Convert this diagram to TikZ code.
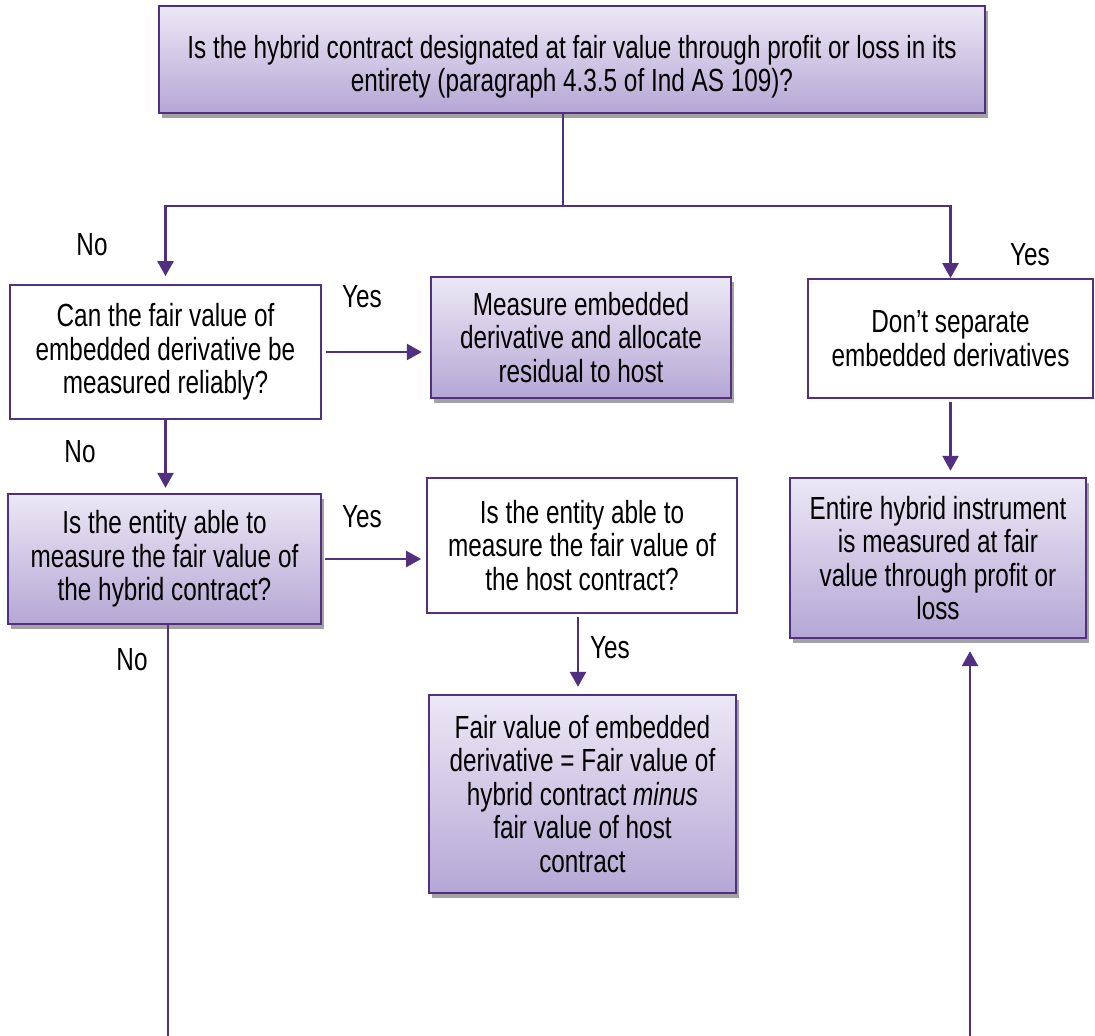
\documentclass[tikz,border=0pt]{standalone}
\usepackage{fontspec}
\setmainfont{Liberation Sans}[FakeStretch=0.76]
\usetikzlibrary{arrows.meta, shadows}

\definecolor{flowline}{HTML}{50307F}
\definecolor{boxtop}{HTML}{ECE8F5}
\definecolor{boxbottom}{HTML}{B5A7D5}
\definecolor{shadowgray}{HTML}{A3A3A3}

\begin{document}
\begin{tikzpicture}[x=1pt, y=-1pt,
  font=\fontsize{32}{33.5}\selectfont,
  shaded/.style={draw=flowline, line width=2.4pt, align=center, inner sep=0pt,
    top color=boxtop, bottom color=boxbottom,
    drop shadow={shadow xshift=3pt, shadow yshift=-5pt, fill=shadowgray, opacity=1}},
  plain/.style={draw=flowline, line width=1.8pt, fill=white, align=center, inner sep=0pt},
  flow/.style={draw=flowline, line width=2.5pt, -{Triangle[length=15pt, width=16pt]}},
  link/.style={draw=flowline, line width=2.5pt}]
\useasboundingbox (0,0) rectangle (1095,1036);

% decision boxes
\node[shaded, minimum width=826, minimum height=107, text height=71pt, text depth=7pt] (top) at (572,59.5)
  {Is the hybrid contract designated at fair value through profit or loss in its\\ entirety (paragraph 4.3.5 of Ind AS 109)?};
\node[plain, minimum width=311, minimum height=134] (reliable) at (165.5,352)
  {Can the fair value of\\ embedded derivative be\\ measured reliably?};
\node[shaded, minimum width=300, minimum height=121] (allocate) at (581,337.5)
  {Measure embedded\\ derivative and allocate\\ residual to host};
\node[plain, minimum width=285, minimum height=119] (noseparate) at (950.5,338.5)
  {Don’t separate\\ embedded derivatives};
\node[shaded, minimum width=296, minimum height=160] (entire) at (938,558)
  {Entire hybrid instrument\\ is measured at fair\\ value through profit or\\ loss};
\node[shaded, minimum width=313, minimum height=130] (hybridfv) at (164.5,559)
  {Is the entity able to\\ measure the fair value of\\ the hybrid contract?};
\node[plain, minimum width=310, minimum height=135] (hostfv) at (582,545.5)
  {Is the entity able to\\ measure the fair value of\\ the host contract?};
\node[shaded, minimum width=307, minimum height=198] (residual) at (582.5,794)
  {Fair value of embedded\\ derivative = Fair value of\\ hybrid contract \textit{minus}\\ fair value of host\\ contract};

% branch point and free ends
\coordinate (split) at (563,206);
\coordinate (exitleft) at (168,1036);
\coordinate (exitright) at (970,1036);

% connectors
\draw[link] (top.south -| split) -- (split);
\draw[flow, shorten >=8pt] (split) -| (reliable.north);
\draw[flow] (split) -| (noseparate.north);
\draw[flow, shorten <=4pt, shorten >=8pt] (reliable.east) -- (reliable.east -| allocate.west);
\draw[flow, shorten >=5pt] (reliable.south) -- (reliable.south |- hybridfv.north);
\draw[flow, shorten <=3pt, shorten >=5pt] (hybridfv.east) -- (hybridfv.east -| hostfv.west);
\draw[flow, shorten <=3pt, shorten >=7pt] (hostfv.south -| 578,0) -- (residual.north -| 578,0);
\draw[flow, shorten <=3pt, shorten >=6pt] (noseparate.south) -- (noseparate.south |- entire.north);
\draw[link] (hybridfv.south -| exitleft) -- (exitleft);
\draw[flow, shorten >=12pt] (exitright) -- (exitright |- entire.south);

% branch labels
\node (no1) at (92,245) {No};
\node (yes1) at (1030,255) {Yes};
\node (yes2) at (362,297) {Yes};
\node (no2) at (80,452) {No};
\node (yes3) at (362,517) {Yes};
\node (yes4) at (610,648) {Yes};
\node (no3) at (132,660) {No};
\end{tikzpicture}
\end{document}
